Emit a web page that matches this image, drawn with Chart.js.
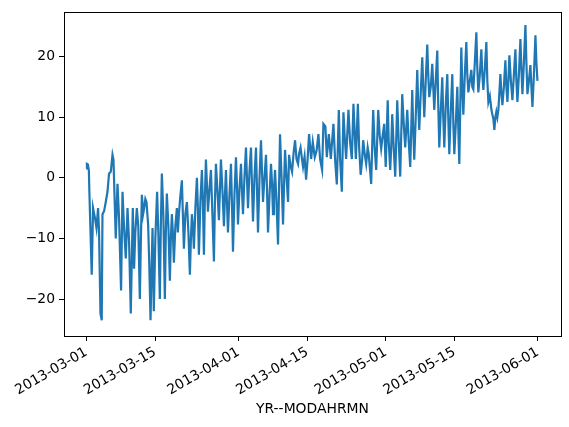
<!DOCTYPE html>
<html>
<head>
<meta charset="utf-8">
<script src="https://cdn.jsdelivr.net/npm/chart.js@4.4.1/dist/chart.umd.min.js"></script>
<style>
    html, body { margin: 0; padding: 0; background: #fff; }
    canvas { display: block; }
</style>
</head>
<body>
<canvas id="chart" width="569" height="427"></canvas>
<script>

// days after 2013-03-01 00:00, one row per stretch of about two weeks
var days = [
    0.0, 0.1, 0.3, 0.5, 0.6, 1.08, 1.35, 1.75, 2.05, 2.37, 2.57, 2.86, 3.12, 3.27, 3.6, 3.94, 4.29, 4.61, 4.96, 5.31, 5.51, 5.98, 6.33, 6.65, 7.06, 7.35, 7.67, 8.02, 8.37, 8.69, 9.04, 9.45, 9.71, 9.96, 10.27, 10.57, 10.88, 11.1, 11.3, 11.55, 11.76, 12.0, 12.24, 12.57, 12.8, 13.06, 13.2, 13.47, 13.73, 14.04,
    14.4, 14.65, 14.96, 15.16, 15.37, 15.67, 15.98, 16.18, 16.39, 16.7, 17.0, 17.2, 17.41, 17.61, 17.82, 18.12, 18.43, 18.63, 18.84, 19.14, 19.45, 19.65, 19.86, 20.16, 20.47, 20.78, 21.08, 21.29, 21.49, 21.69, 21.9, 22.2, 22.51, 22.71, 22.92, 23.22, 23.53, 23.73, 23.94, 24.14, 24.35, 24.55, 24.76, 25.06, 25.37, 25.67, 25.98, 26.18, 26.39, 26.69, 27.0, 27.2, 27.41, 27.71, 28.02, 28.22, 28.43, 28.63, 28.84, 29.14, 29.45,
    29.65, 29.86, 30.16, 30.47, 30.67, 30.88, 31.18, 31.49, 31.69, 31.9, 32.2, 32.51, 32.71, 32.92, 33.22, 33.53, 33.73, 33.94, 34.24, 34.55, 34.76, 34.96, 35.27, 35.57, 35.78, 35.98, 36.28, 36.59, 36.8, 37.0, 37.3, 37.61, 37.82, 38.02, 38.22, 38.43, 38.73, 39.04, 39.24, 39.45, 39.76, 40.06, 40.27, 40.47, 40.78, 41.08, 41.29, 41.59, 41.9, 42.2, 42.51, 42.82, 43.12, 43.33, 43.63, 43.94, 44.14, 44.45, 44.76, 45.06,
    45.37, 45.78, 46.12, 46.53, 46.9, 47.27, 47.61, 48.02, 48.29, 48.69, 48.98, 49.39, 49.8, 50.06, 50.33, 50.67, 51.02, 51.43, 51.69, 52.04, 52.37, 52.61, 52.92, 53.39, 53.73, 54.08, 54.41, 54.9, 55.31, 55.57, 55.88, 56.18, 56.39, 56.69, 57.0, 57.31, 57.51, 57.82, 58.02, 58.22, 58.43, 58.73, 59.04, 59.24, 59.45, 59.76, 60.06, 60.37, 60.67, 60.98,
    61.18, 61.39, 61.59, 61.9, 62.1, 62.31, 62.61, 62.92, 63.12, 63.33, 63.63, 63.94, 64.14, 64.35, 64.65, 64.96, 65.16, 65.37, 65.67, 65.98, 66.18, 66.39, 66.59, 66.8, 67.1, 67.41, 67.61, 67.82, 68.12, 68.43, 68.63, 68.84, 69.14, 69.45, 69.65, 69.86, 70.16, 70.47, 70.67, 70.88, 71.18, 71.49, 71.69, 71.9, 72.2, 72.51, 72.71, 72.92, 73.22, 73.53, 73.73, 73.94, 74.24, 74.55, 74.76, 74.96, 75.27, 75.57, 75.78, 75.98,
    76.18, 76.39, 76.59, 76.8, 77.1, 77.41, 77.61, 77.82, 78.12, 78.43, 78.63, 78.84, 79.14, 79.45, 79.65, 79.86, 80.16, 80.47, 80.67, 80.88, 81.18, 81.49, 81.69, 81.9, 82.2, 82.51, 82.71, 82.92, 83.12, 83.33, 83.53, 83.73, 83.94, 84.14, 84.35, 84.55, 84.76, 85.06, 85.37, 85.57, 85.78, 85.98, 86.18, 86.49, 86.8, 87.1, 87.41, 87.61, 87.82, 88.12, 88.43, 88.63, 88.84, 89.14, 89.45, 89.65, 89.86, 90.16, 90.47, 90.67, 90.88, 91.18, 91.49, 91.69, 91.9
]

var temps = [
    1.5, 2.3, 2.2, 1.2, -2.3, -16, -5, -6.7, -8.3, -5, -8.8, -22.4, -23.5, -6, -5.5, -4, -2.3, 0.7, 1, 3.8, 3, -10, -1, -6.7, -18.6, -2.3, -8.3, -13.3, -5, -10.5, -22.4, -5, -15, -9, -5, -8, -20, -10, -2.8, -6, -5, -3.5, -4, -7.7, -14, -23.5, -18, -8.3, -22, -10,
    -2.3, -9, -20, -8, 0.7, -6, -20, -9, -2.6, -8, -17, -10, -6, -9, -14, -8, -5, -9, -6, -3, -0.4, -6, -11.7, -6, -4, -9, -16, -10, -6, -8, -11.7, -5, 0, -5, -12.7, -4, 1.3, -4, -12.7, -3, 3, -1, -5.6, -2, 1.3, -6, -13.8, -4, 2.3, -2, -7, -2, 3, -2, -8, -3, 1.3, -4, -9, -3, 2.3,
    -4, -12.2, -3, 3.4, -1, -7.7, -2, 2.3, -2, -6, 0, 5, 0, -5, 1, 5, -1, -7.2, 0, 5, -2, -9, 0, 6.2, 1, -4, 0, 3.8, -2, -9, -3, 2.3, -1, -6, -2, 1.3, -4, -11, -2, 7.2, 0, -7.7, -1, 4.6, 0, -4, 3.8, 2, 1, 4, 6.2, 3, 2.3, 4, 5, 3, 1.8, 3.5, -0.3, 3,
    7.2, 3.1, 5.9, 3.4, 4.5, 7.2, 3.1, 1.3, 8.9, 8.5, 3.4, 7.2, 3.1, 6, 8.9, 3, -1.1, 11.2, 3.1, -2.3, 10.8, 7, 3.1, 11.2, 5.9, 3.1, 12.2, 3.1, 12.2, 5, 0.5, 3, 6.2, 4, 2.3, 5, 4, 1, -1, 5, 11.2, 5, 1.3, 6, 11.2, 7, 4.8, 7, 8.9, 1.8,
    7, 12.8, 6, 1.3, 5, 10.5, 5, 0.2, 6, 12.8, 6, 0.2, 7, 13.8, 9, 5, 8, 11.2, 6, 1.8, 8, 14.5, 8, 3, 10, 17.8, 12, 7.9, 14, 19.9, 15, 10, 16, 22, 17, 13.3, 15, 18.8, 15, 11.2, 16, 21, 12, 5, 11, 16.6, 10, 5, 12, 17.1, 10, 3.9, 11, 17.1, 9, 3.9, 9, 15, 8, 2.3,
    12, 21.5, 15, 10.4, 17, 22.4, 17, 14.1, 16, 17.8, 15, 14.6, 19, 24, 18, 14.1, 17, 21.2, 17, 14.5, 18, 22.4, 16, 12.5, 13.5, 11.3, 10.5, 9.7, 7.9, 10, 10.9, 10, 11.2, 14, 17.1, 14, 12, 15, 19.4, 15, 12.5, 16, 20.2, 16, 12.8, 17, 21.2, 16, 12.5, 17, 22.9, 18, 13.8, 19, 25.2, 19, 13.8, 16, 18.6, 15, 11.7, 17, 23.5, 19, 16
]

var tickDays = [0, 14, 31, 45, 61, 75, 92]
var tickLabels = ['2013-03-01', '2013-03-15', '2013-04-01', '2013-04-15', '2013-05-01', '2013-05-15', '2013-06-01']
var yTicks = [-20, -10, 0, 10, 20]

var font = { family: '"DejaVu Sans", sans-serif', size: 13.9 }

var frame = {
    id: 'frame',
    afterDraw(chart) {
        var { ctx, chartArea: a } = chart
        ctx.save()
        ctx.strokeStyle = '#000'
        ctx.lineWidth = 1
        ctx.strokeRect(Math.round(a.left) + 0.5, Math.round(a.top) + 0.5,
            Math.round(a.right - a.left), Math.round(a.bottom - a.top))
        ctx.restore()
    }
}

var el = document.getElementById('chart')
new Chart(el, {
    type: 'line',
    data: {
        datasets: [{
            data: days.map((d, i) => ({ x: d, y: temps[i] })),
            borderColor: '#1f77b4',
            borderWidth: 2.2,
            pointRadius: 0,
            tension: 0,
            fill: false
        }]
    },
    options: {
        responsive: false,
        animation: false,
        layout: { padding: { top: 9, right: 8, left: 0, bottom: 0 } },
        plugins: { legend: { display: false }, tooltip: { enabled: false } },
        scales: {
            x: {
                type: 'linear',
                min: -4.57,
                max: 96.7,
                afterFit(scale) { scale.height = 91 },
                afterBuildTicks(scale) { scale.ticks = tickDays.map(v => ({ value: v })) },
                grid: { drawOnChartArea: false, drawTicks: true, tickLength: 5, color: '#000' },
                border: { display: false },
                ticks: {
                    minRotation: 30,
                    maxRotation: 30,
                    padding: 3,
                    color: '#000',
                    font,
                    callback: v => tickLabels[tickDays.indexOf(v)]
                },
                title: {
                    display: true,
                    text: 'YR--MODAHRMN',
                    color: '#000',
                    font,
                    padding: { top: 0, bottom: 9 }
                }
            },
            y: {
                min: -26.1,
                max: 27.3,
                afterFit(scale) { scale.width = 64 },
                afterBuildTicks(scale) { scale.ticks = yTicks.map(v => ({ value: v })) },
                grid: { drawOnChartArea: false, drawTicks: true, tickLength: 5, color: '#000' },
                border: { display: false },
                ticks: {
                    padding: 4,
                    color: '#000',
                    font,
                    callback: v => v < 0 ? '\u2212' + Math.abs(v) : String(v)
                }
            }
        }
    },
    plugins: [frame]
})
</script>
</body>
</html>
